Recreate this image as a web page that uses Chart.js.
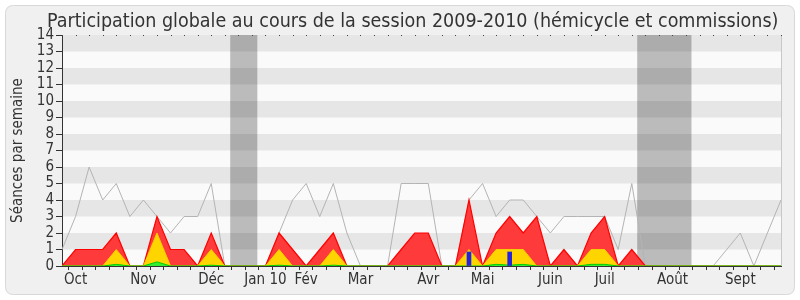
<!DOCTYPE html>
<html><head><meta charset="utf-8">
<script src="https://cdn.jsdelivr.net/npm/chart.js@4"></script>
<style>html,body{margin:0;padding:0;background:#fff}canvas{display:block}</style>
</head><body>
<canvas id="c" width="800" height="300"></canvas>
<script>
// Week index (0 = first week of the 2009-2010 session)
const weekIndex = [0,1,2,3,4,5,6,7,8,9,10,11,12,13,14,15,16,17,18,19,20,21,22,23,24,25,26,27,28,29,30,31,32,33,34,35,36,37,38,39,40,41,42,43,44,45,46,47,48,49,50,51,52,53];
// Month tick labels and the week they sit on
const monthLabels = ['Oct','Nov','Déc','Jan 10','Fév','Mar','Avr','Mai','Juin','Juil','Août','Sept'];
const monthWeeks  = [1,6,11,15,18,22,27,31,36,40,45,50];
// Total sessions per week (grey line)
const totalSeances = [1,3,6,4,5,3,4,3,2,3,3,5,0,0,0,0,2,4,5,3,5,2,0,0,0,5,5,5,0,0,4,5,3,4,4,3,2,3,3,3,3,1,5,0,0,0,0,0,0,1,2,0,2,4];
// Presences (red area)
const presences = [0,1,1,1,2,0,0,3,1,1,0,2,0,0,0,0,2,1,0,1,2,0,0,0,0,1,2,2,0,0,4,0,2,3,2,3,0,1,0,2,3,0,1,0,0,0,0,0,0,0,0,0,0,0];
// Participations (yellow area)
const participations = [0,0,0,0,1,0,0,2,0,0,0,1,0,0,0,0,1,0,0,0,1,0,0,0,0,0,0,0,0,0,1,0,1,1,1,0,0,0,0,1,1,0,0,0,0,0,0,0,0,0,0,0,0,0];
// Interventions (green area)
const interventions = [0,0,0,0,0.1,0,0,0.25,0,0,0,0.05,0,0,0,0,0.05,0,0,0,0.05,0,0,0,0,0,0,0,0,0,0,0,0.1,0.05,0.1,0,0,0,0,0.1,0.1,0,0,0,0,0,0,0,0,0,0,0,0,0];
// Oral questions (blue bars)
const questions = [null,null,null,null,null,null,null,null,null,null,null,null,null,null,null,null,null,null,null,null,null,null,null,null,null,null,null,null,null,null,0.85,null,null,0.85,null,null,null,null,null,null,null,null,null,null,null,null,null,null,null,null,null,null,null,null];
// Parliamentary holidays (week ranges)
const holidays = [[12.4,14.4],[42.4,46.4]];

const FONT = '"DejaVu Sans Condensed", "DejaVu Sans", sans-serif';
const pts = arr => arr.map((v,i)=>({x:weekIndex[i], y:v}));

function rr(ctx,x,y,w,h,r){
  ctx.beginPath();
  ctx.moveTo(x+r,y);ctx.lineTo(x+w-r,y);ctx.quadraticCurveTo(x+w,y,x+w,y+r);
  ctx.lineTo(x+w,y+h-r);ctx.quadraticCurveTo(x+w,y+h,x+w-r,y+h);
  ctx.lineTo(x+r,y+h);ctx.quadraticCurveTo(x,y+h,x,y+h-r);
  ctx.lineTo(x,y+r);ctx.quadraticCurveTo(x,y,x+r,y);ctx.closePath();
}

const decor = {
  id:'decor',
  beforeDraw(chart){
    const {ctx, chartArea:a, scales:{x,y}} = chart;
    ctx.save();
    ctx.fillStyle='#fff'; ctx.fillRect(0,0,chart.width,chart.height);
    rr(ctx,5.5,5.5,789,289,8);
    ctx.fillStyle='#F0F0F0'; ctx.fill();
    ctx.strokeStyle='#D8D8D8'; ctx.lineWidth=1; ctx.stroke();
    ctx.fillStyle='#FAFAFA'; ctx.fillRect(a.left,a.top,a.right-a.left,a.bottom-a.top);
    ctx.fillStyle='#E6E6E6';
    for(let v=1; v<14; v+=2){
      const y1=y.getPixelForValue(v+1), y0=y.getPixelForValue(v);
      ctx.fillRect(a.left,y1,a.right-a.left,y0-y1);
    }
    ctx.fillStyle='rgba(0,0,0,0.25)';
    holidays.forEach(([s,e])=>{
      const x0=x.getPixelForValue(s), x1=x.getPixelForValue(e);
      ctx.fillRect(x0,a.top,x1-x0,a.bottom-a.top);
    });
    ctx.restore();
  },
  afterDraw(chart){
    const {ctx, chartArea:a, scales:{x}} = chart;
    ctx.save();
    ctx.strokeStyle='#C8C8C8'; ctx.lineWidth=1;
    ctx.beginPath(); ctx.moveTo(Math.round(a.right)+0.5,a.top); ctx.lineTo(Math.round(a.right)+0.5,a.bottom); ctx.stroke();
    ctx.fillStyle='#444';
    weekIndex.forEach(w=>{ ctx.fillRect(Math.round(x.getPixelForValue(w)),Math.round(a.top),1,1); });
    ctx.fillStyle='#333';
    ctx.font='19.5px '+FONT;
    ctx.textAlign='center'; ctx.textBaseline='alphabetic';
    ctx.fillText('Participation globale au cours de la session 2009-2010 (hémicycle et commissions)',412.7,27);
    ctx.restore();
  }
};

new Chart(document.getElementById('c'),{
  type:'line',
  data:{datasets:[
    {type:'bar', data:pts(questions), backgroundColor:'#2424DC', barThickness:4, order:0},
    {data:pts(interventions), fill:'origin', backgroundColor:'#33EE33', borderColor:'#00CC00', borderWidth:1, order:1},
    {data:pts(participations), fill:'origin', backgroundColor:'#FFD500', borderColor:'#F0D000', borderWidth:1, order:2},
    {data:pts(presences), fill:'origin', backgroundColor:'#FF3A3A', borderColor:'#FF0000', borderWidth:1.2, order:3},
    {data:pts(totalSeances), fill:false, borderColor:'#B4B4B4', borderWidth:1, order:4}
  ]},
  options:{
    responsive:false, animation:false, devicePixelRatio:1,
    layout:{padding:{left:0,right:19,top:35,bottom:0}},
    elements:{point:{radius:0}, line:{tension:0}},
    plugins:{legend:{display:false}, tooltip:{enabled:false}, title:{display:false}},
    scales:{
      x:{type:'linear', min:0, max:53, offset:false,
        afterBuildTicks:s=>{ s.ticks = weekIndex.map(v=>({value:v})); },
        afterFit:s=>{ s.height=34; },
        grid:{drawOnChartArea:false, drawTicks:true, tickLength:4, color:'#333'},
        border:{color:'#333'},
        ticks:{autoSkip:false, maxRotation:0, minRotation:0, padding:1, color:'#333', font:{family:FONT,size:15},
          callback:v=>{ const k=monthWeeks.indexOf(v); return k>=0?monthLabels[k]:''; }}
      },
      y:{min:0, max:14,
        afterFit:s=>{ s.width=62; },
        grid:{drawOnChartArea:false, drawTicks:true, tickLength:6, color:'#333'},
        border:{color:'#333'},
        ticks:{stepSize:1, autoSkip:false, padding:2, color:'#333', font:{family:FONT,size:15}},
        title:{display:true, text:'Séances par semaine', color:'#333', font:{family:FONT,size:15}, padding:{top:9,bottom:0}}
      }
    }
  },
  plugins:[decor]
});
</script>
</body></html>
